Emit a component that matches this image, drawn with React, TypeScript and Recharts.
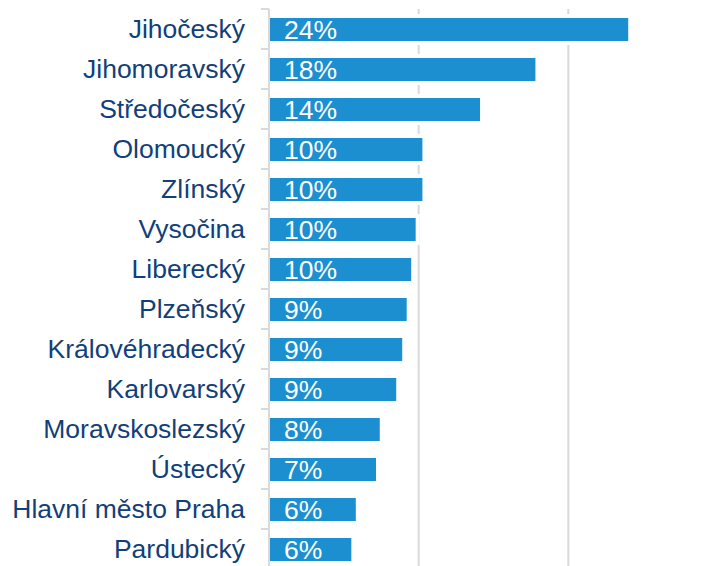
import React from 'react';
import { BarChart, Bar, XAxis, YAxis, CartesianGrid, LabelList } from 'recharts';

const categories = [
  'Jihočeský',
  'Jihomoravský',
  'Středočeský',
  'Olomoucký',
  'Zlínský',
  'Vysočina',
  'Liberecký',
  'Plzeňský',
  'Královéhradecký',
  'Karlovarský',
  'Moravskoslezský',
  'Ústecký',
  'Hlavní město Praha',
  'Pardubický',
];
const values = [24.0, 17.8, 14.1, 10.25, 10.25, 9.8, 9.5, 9.2, 8.9, 8.5, 7.4, 7.15, 5.8, 5.5];
const valueLabels = ['24%', '18%', '14%', '10%', '10%', '10%', '10%', '9%', '9%', '9%', '8%', '7%', '6%', '6%'];
const xTicks = [0, 10, 20, 30];

const data = categories.map((name, i) => ({ name, value: values[i], label: valueLabels[i] }));

const CHART_W = 718;
const CHART_H = 580;
const M_TOP = 9;
const M_BOTTOM = 11;
const BAND_HALF = (CHART_H - M_TOP - M_BOTTOM) / categories.length / 2;

const BarShape = (props: any) => {
  const { x, y, width, height } = props;
  const pad = 4;
  return (
    <g>
      <rect x={x} y={y - pad} width={Math.max(0, width + pad)} height={height + pad * 2} fill="#ffffff" />
      <rect x={x} y={y} width={Math.max(0, width)} height={height} fill="#1b8fcf" />
    </g>
  );
};

const CatTick = (props: any) => {
  const { x, y, payload } = props;
  return (
    <g>
      <line x1={x - 8} x2={x} y1={y - BAND_HALF} y2={y - BAND_HALF} stroke="#d9d9d9" strokeWidth={2} />
      <text
        x={x - 24}
        y={y}
        textAnchor="end"
        dominantBaseline="central"
        fill="#123f7a"
        fontSize={26.5}
        fontFamily="'Liberation Sans', Arial, sans-serif"
      >
        {payload.value}
      </text>
    </g>
  );
};

export default function App() {
  return (
    <div style={{ position: 'fixed', left: 0, top: 0, width: 709, height: 566, overflow: 'hidden', background: '#fff' }}>
      <BarChart
        width={CHART_W}
        height={CHART_H}
        data={data}
        layout="vertical"
        margin={{ top: M_TOP, right: 0, bottom: M_BOTTOM, left: 0 }}
        barCategoryGap={17}
      >
        <CartesianGrid horizontal={false} vertical={true} stroke="#d9d9d9" strokeWidth={2} />
        <XAxis type="number" domain={[0, 30]} ticks={xTicks} hide />
        <YAxis
          type="category"
          dataKey="name"
          width={269}
          axisLine={{ stroke: '#d9d9d9', strokeWidth: 2 }}
          tickLine={false}
          tickSize={0}
          tickMargin={0}
          tick={<CatTick />}
          interval={0}
        />
        <Bar dataKey="value" barSize={23} shape={<BarShape />} isAnimationActive={false}>
          <LabelList
            dataKey="label"
            position="insideLeft"
            offset={15}
            fill="#ffffff"
            fontSize={26.5}
            fontFamily="'Liberation Sans', Arial, sans-serif"
          />
        </Bar>
      </BarChart>
    </div>
  );
}
